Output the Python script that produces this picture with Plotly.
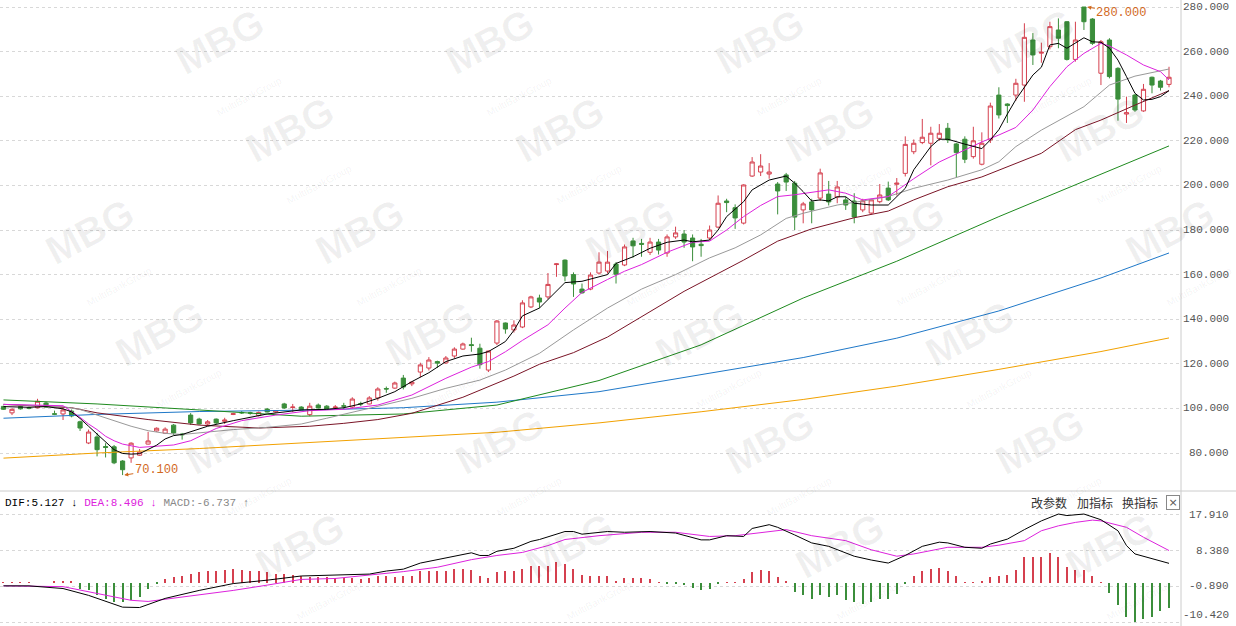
import plotly.graph_objects as go

# ---------------- data ----------------
opens = [100.9, 98.0, 100.8, 100.3, 100.3, 102.4, 97.6, 97.5, 98.8, 94.0,
         84.5, 87.2, 82.9, 82.8, 76.4, 77.8, 79.0, 84.0, 89.9, 88.9,
         92.5, 88.5, 97.0, 95.2, 93.0, 95.2, 94.2, 97.3, 98.2, 98.0,
         96.8, 99.7, 98.4, 102.0, 100.4, 100.6, 97.2, 101.5, 101.0, 100.4,
         101.2, 100.6, 102.2, 102.0, 104.7, 108.9, 109.1, 113.6, 111.0, 116.3,
         118.1, 121.0, 120.4, 123.5, 126.6, 128.6, 127.0, 117.2, 129.3, 138.3,
         135.2, 136.5, 145.5, 149.5, 150.0, 164.5, 166.5, 160.0, 153.5, 153.5,
         160.7, 161.6, 164.7, 164.3, 175.1, 174.0, 170.0, 174.6, 169.7, 176.9,
         178.2, 176.4, 173.6, 176.4, 181.3, 193.0, 190.0, 183.1, 204.2, 206.0,
         205.1, 200.6, 204.7, 201.0, 189.0, 192.6, 194.3, 196.1, 194.8, 193.5,
         193.0, 189.0, 187.6, 192.7, 198.8, 200.5, 205.4, 215.1, 219.2, 218.9,
         221.1, 225.6, 218.6, 220.7, 212.9, 209.5, 220.4, 240.5, 236.5, 240.5,
         245.0, 265.2, 259.3, 262.2, 269.7, 273.4, 256.5, 280.0, 274.6, 250.3,
         265.2, 252.5, 232.0, 240.5, 233.4, 248.5, 246.8, 245.3]
highs = [101.2, 100.0, 101.2, 100.8, 104.3, 103.0, 99.0, 100.2, 99.5, 94.5,
         90.5, 89.0, 84.4, 83.6, 76.8, 84.8, 81.8, 89.5, 91.5, 91.5,
         93.0, 89.0, 97.9, 95.8, 94.8, 95.5, 95.8, 98.0, 98.8, 98.5,
         98.6, 100.2, 99.2, 102.5, 102.0, 101.0, 102.5, 102.2, 101.5, 101.5,
         102.5, 105.0, 103.0, 105.5, 109.5, 109.8, 112.0, 115.0, 112.0, 120.5,
         123.0, 121.4, 123.5, 127.4, 129.5, 131.7, 129.0, 126.0, 139.6, 138.5,
         139.5, 148.5, 150.5, 151.0, 160.7, 165.0, 166.8, 161.0, 156.0, 161.0,
         170.0, 170.6, 165.6, 173.5, 176.5, 176.0, 176.5, 176.0, 178.0, 181.5,
         180.0, 178.0, 176.0, 182.0, 195.5, 194.0, 191.5, 200.5, 212.7, 214.0,
         210.0, 201.5, 205.6, 202.0, 192.6, 194.0, 207.5, 202.0, 202.0, 195.0,
         196.5, 194.0, 194.0, 200.6, 201.7, 203.3, 222.0, 220.6, 229.8, 226.3,
         227.5, 228.0, 219.0, 222.0, 226.3, 223.8, 237.1, 244.0, 236.8, 247.8,
         272.7, 268.3, 264.0, 273.4, 274.9, 273.6, 273.4, 280.0, 275.0, 265.2,
         266.0, 253.0, 239.8, 241.0, 245.5, 248.8, 247.3, 253.2]
lows = [99.3, 97.0, 99.5, 99.6, 100.0, 100.3, 97.0, 94.8, 96.0, 89.9,
        84.0, 78.5, 78.0, 75.0, 70.1, 75.6, 78.8, 83.8, 89.5, 88.5,
        88.0, 86.0, 92.6, 92.7, 92.5, 93.0, 93.0, 97.0, 97.5, 97.2,
        96.4, 98.2, 98.0, 99.8, 98.4, 99.0, 96.5, 100.0, 99.5, 99.8,
        99.8, 100.0, 101.0, 101.8, 103.5, 107.0, 108.8, 108.5, 110.0, 114.0,
        117.0, 118.2, 120.0, 122.5, 126.3, 125.4, 117.8, 116.3, 128.4, 133.5,
        134.0, 136.0, 145.0, 145.0, 149.0, 159.0, 157.0, 150.0, 151.5, 153.0,
        160.0, 160.5, 156.0, 163.8, 167.6, 168.0, 168.8, 169.0, 168.0, 176.0,
        172.0, 166.0, 168.0, 175.5, 180.8, 188.0, 180.5, 182.5, 203.8, 204.2,
        203.0, 187.0, 197.5, 180.0, 183.0, 183.0, 193.0, 191.0, 192.0, 189.0,
        183.0, 188.0, 187.0, 192.0, 193.0, 195.5, 204.0, 214.0, 218.5, 209.0,
        220.0, 219.0, 203.6, 210.0, 212.0, 209.0, 219.0, 230.0, 228.0, 238.0,
        237.5, 254.0, 255.0, 261.0, 261.5, 256.0, 255.5, 269.7, 263.0, 245.0,
        248.0, 229.0, 228.0, 233.0, 233.0, 241.3, 242.5, 244.0]
closes = [99.6, 99.6, 99.8, 100.1, 103.2, 100.6, 97.4, 99.3, 96.6, 91.2,
          89.4, 81.5, 82.5, 75.6, 72.5, 84.4, 80.4, 85.4, 91.1, 90.7,
          89.0, 88.2, 93.5, 93.0, 94.0, 93.5, 94.8, 97.6, 98.0, 97.9,
          98.2, 98.4, 98.9, 100.2, 100.6, 99.3, 101.0, 100.2, 99.7, 100.6,
          101.0, 104.2, 102.0, 104.7, 108.7, 108.7, 111.4, 109.6, 111.8, 119.5,
          121.7, 120.3, 122.6, 126.6, 128.9, 128.2, 119.6, 125.7, 139.2, 135.6,
          137.4, 147.3, 150.0, 147.7, 155.6, 164.8, 159.4, 155.8, 151.8, 159.8,
          165.6, 165.6, 160.2, 172.4, 172.9, 173.6, 174.6, 171.0, 176.9, 178.7,
          174.6, 172.4, 173.0, 180.0, 192.0, 192.3, 185.4, 200.2, 210.5, 208.7,
          206.0, 197.5, 201.5, 185.8, 191.7, 189.0, 205.6, 192.6, 199.3, 191.2,
          185.8, 193.1, 193.5, 195.7, 193.5, 201.0, 218.4, 218.9, 221.6, 223.4,
          223.4, 220.4, 214.7, 211.7, 220.0, 218.9, 235.6, 231.6, 235.8, 245.8,
          266.4, 258.5, 259.7, 271.2, 266.0, 256.5, 265.2, 273.4, 263.7, 264.4,
          248.8, 238.7, 232.6, 233.8, 243.1, 245.0, 244.0, 248.5]

# moving averages (candle index -> value)
ma5_idx = [0, 3, 5, 7, 8, 9, 10, 11, 12, 13, 14, 15, 16, 17, 18, 19, 20, 21, 22, 23,
           24, 27, 31, 35, 38, 40, 42, 44, 46, 48, 50, 52, 54, 56, 57, 58, 59, 60, 61, 63,
           65, 66, 68, 69, 71, 72, 74, 76, 78, 80, 81, 83, 84, 85, 87, 88, 90, 92, 93, 94,
           95, 96, 97, 98, 99, 100, 102, 104, 106, 107, 109, 110, 111, 113, 115, 116, 117, 118, 119, 121,
           122, 123, 124, 125, 127, 128, 129, 130, 131, 132, 133, 134, 135, 136, 137]
ma5_val = [100.8, 100.5, 100.8, 99.8, 98.5, 95.5, 92.0, 88.5, 85.0, 81.5, 79.8, 79.5, 79.7, 81.5, 83.5, 86.3, 87.8, 88.3, 89.5, 90.8,
           92.0, 94.5, 97.5, 99.3, 99.6, 100.3, 102.0, 104.5, 107.5, 112.0, 116.0, 121.0, 123.5, 124.4, 125.5, 127.7, 130.0, 135.0, 141.5, 145.0,
           152.5, 156.4, 157.0, 158.0, 160.0, 165.0, 168.0, 171.8, 174.5, 175.5, 174.7, 175.5, 180.0, 186.0, 192.7, 198.0, 202.4, 204.2, 201.0, 197.2,
           193.0, 193.5, 193.0, 194.9, 194.9, 192.0, 191.2, 191.2, 198.7, 207.0, 217.4, 220.7, 220.7, 218.5, 216.5, 220.4, 225.0, 232.0, 238.5, 249.5,
           253.0, 263.0, 263.7, 261.5, 266.2, 264.4, 264.2, 261.5, 256.2, 248.8, 241.3, 238.3, 238.6, 239.8, 242.5]
ma10_idx = [0, 4, 7, 9, 10, 11, 12, 13, 14, 16, 18, 20, 22, 24, 25, 28, 32, 36, 40, 44,
            48, 52, 55, 57, 59, 61, 64, 66, 68, 71, 73, 75, 78, 81, 83, 85, 87, 89, 91, 93,
            95, 97, 99, 101, 104, 107, 110, 113, 115, 117, 119, 121, 123, 125, 127, 129, 130, 132, 134, 136, 137]
ma10_val = [101.8, 101.5, 101.2, 96.0, 93.0, 90.5, 87.5, 85.5, 84.0, 82.5, 83.0, 83.6, 85.5, 89.0, 91.0, 94.5, 97.0, 99.0, 99.6, 101.5,
            106.0, 113.5, 118.5, 121.0, 125.4, 130.5, 137.5, 145.0, 152.0, 157.8, 161.5, 164.5, 170.0, 174.5, 175.0, 180.0, 186.0, 191.0, 195.0, 195.8,
            197.0, 198.0, 196.5, 193.5, 195.0, 203.0, 210.5, 216.0, 219.5, 222.6, 226.0, 233.8, 244.3, 253.2, 259.2, 263.7, 262.5, 258.5, 254.0, 251.0, 247.3]
ma20_idx = [0, 7, 9, 11, 13, 15, 17, 19, 21, 23, 27, 31, 35, 38, 44, 48, 52, 56, 59, 63,
            67, 71, 75, 79, 83, 86, 89, 92, 94, 96, 98, 101, 104, 107, 111, 115, 117, 119, 122, 127,
            130, 133, 137]
ma20_val = [101.8, 100.8, 99.5, 97.0, 94.5, 92.0, 90.0, 88.8, 88.3, 89.0, 90.5, 91.5, 93.0, 95.6, 100.8, 104.5, 109.0, 112.7, 117.2, 124.7,
            135.2, 145.0, 153.5, 160.0, 167.5, 172.0, 177.8, 185.2, 187.5, 189.5, 191.2, 193.0, 195.0, 198.7, 202.4, 207.0, 210.6, 217.4, 224.8, 235.3,
            245.0, 249.0, 252.2]
ma30_idx = [0, 5, 8, 11, 17, 23, 30, 36, 40, 44, 48, 54, 60, 63, 67, 71, 75, 80, 84, 87,
            91, 95, 100, 104, 107, 111, 115, 119, 122, 126, 129, 133, 137]
ma30_val = [101.8, 100.8, 100.3, 98.0, 95.0, 92.5, 91.2, 92.0, 93.3, 95.0, 97.8, 105.0, 114.5, 119.8, 125.0, 132.0, 141.0, 152.5, 160.5, 166.5,
            175.0, 180.5, 185.5, 188.5, 193.5, 199.4, 203.8, 209.9, 214.4, 225.0, 229.3, 236.0, 242.5]
long_idx = [0, 11, 23, 35, 47, 58, 70, 82, 94, 105, 117, 129, 137]
ma60_val = [103.8, 102.0, 99.3, 96.5, 97.5, 101.5, 112.5, 128.5, 149.5, 166.0, 186.0, 205.0, 217.7]
ma120_val = [95.6, 97.3, 98.6, 99.2, 100.3, 102.8, 107.5, 115.0, 122.8, 131.5, 143.7, 158.5, 169.7]
ma250_val = [77.7, 80.0, 82.0, 84.5, 87.0, 89.3, 93.5, 98.5, 104.0, 110.0, 117.5, 125.5, 131.6]

macd_hist = [0.1, 0.1, 0.1, 0.1, 0.0, 0.0, 0.35, 0.5, 0.5,
             -1.6, -2.0, -3.3, -4.2, -5.1, -5.1, -4.6, -3.8, -1.6, -0.3,
             1.05, 1.5, 1.75, 2.4, 2.8, 3.2, 3.2, 3.5, 3.7, 3.5, 3.2, 3.2, 2.8, 2.4, 2.4, 2.1,
             1.9, 1.65, 1.5, 1.5, 1.2, 1.2, 1.2, 1.05, 1.2, 1.75, 1.75, 1.5,
             1.9, 1.9, 3.0, 3.2, 3.2, 3.2, 3.7, 3.7, 3.4, 1.75, 1.2, 2.8, 3.0, 3.0, 3.7,
             4.4, 4.4, 4.5, 5.4, 5.0, 3.7, 2.1, 1.75, 1.75, 1.75, 0.6, 1.2, 1.2, 1.2, 1.05,
             0.1, -0.1, -0.3, -0.7, -1.4, -2.0, -1.75, -0.2, 0.1, 0.2,
             1.05, 2.8, 3.5, 3.2, 1.5, 0.35,
             -2.45, -3.3, -4.2, -3.1, -3.8, -3.3, -4.6, -5.1, -5.5, -5.1, -4.2, -4.2, -2.9, -0.1,
             1.75, 3.2, 3.7, 3.85, 3.0, 1.75,
             0.05, 0.05, 0.3,
             1.5, 1.75, 2.1, 3.5, 6.7, 6.9, 6.7, 7.8, 6.7, 4.1, 3.5, 3.5, 1.75, 0.05,
             -2.6, -5.9, -9.0, -10.3, -9.6, -9.0, -7.5, -6.737]
dif_idx = [0, 3, 7, 10, 14, 16, 19, 23, 27, 31, 35, 39, 43, 45, 47, 49, 51, 55, 56, 57,
           58, 60, 62, 63, 66, 67, 68, 71, 73, 75, 76, 79, 82, 83, 85, 87, 88, 90, 91, 93,
           95, 97, 100, 102, 104, 106, 108, 110, 111, 113, 115, 116, 118, 120, 122, 124, 125, 127, 129, 131,
           132, 133, 135, 137]
dif_val = [-0.8, -0.8, -1.5, -3.3, -6.4, -6.5, -4.1, -2.0, -0.2, 0.7, 1.8, 2.0, 2.3, 3.1, 3.6, 5.2, 6.1, 7.9, 7.2, 7.2,
           8.3, 9.1, 10.9, 11.4, 13.5, 13.5, 12.8, 13.5, 13.3, 13.5, 13.5, 13.1, 11.3, 11.3, 12.4, 12.2, 14.3, 15.3, 14.6, 12.6,
           10.5, 9.6, 7.0, 6.0, 5.2, 7.2, 9.6, 10.7, 10.5, 9.35, 9.1, 10.2, 11.5, 14.0, 16.3, 18.1, 17.7, 18.1, 16.6, 13.7,
           9.8, 7.6, 6.3, 5.127]
dea_idx = [0, 7, 11, 15, 17, 21, 27, 31, 35, 39, 43, 47, 51, 55, 58, 61, 64, 66, 70, 75,
           79, 83, 86, 90, 92, 95, 99, 102, 105, 107, 111, 113, 115, 117, 120, 122, 124, 126, 128, 129,
           132, 134, 137]
dea_val = [-0.8, -1.0, -2.8, -4.6, -4.9, -3.7, -2.0, -0.6, 0.9, 1.15, 2.0, 2.95, 4.1, 6.1, 7.2, 8.0, 9.8, 11.4, 12.4, 13.3,
           13.3, 12.2, 12.4, 13.5, 14.0, 12.4, 11.1, 8.7, 7.0, 7.6, 9.35, 9.35, 9.35, 9.9, 11.1, 13.7, 15.0, 15.9, 16.5, 16.3,
           14.6, 12.0, 8.496]

price_ticks = [80, 100, 120, 140, 160, 180, 200, 220, 240, 260, 280]
price_labels = ["80.000", "100.000", "120.000", "140.000", "160.000", "180.000",
                "200.000", "220.000", "240.000", "260.000", "280.000"]
macd_ticks = [17.91, 8.38, -0.89, -10.42]
macd_labels = ["17.910", "8.380", "-0.890", "-10.420"]

# ---------------- styling ----------------
W, H = 1236, 626
RED = "#d5404f"
GREEN = "#3b8e3b"
XD = 1181 / W
TOP_DOM = [1 - 490 / H, 1]
BOT_DOM = [0, 1 - 492 / H]
XRANGE = [-0.41, 138.41]
MONO = "Liberation Mono, DejaVu Sans Mono, monospace"
CJK = "Noto Sans CJK SC"
HEAD_Y = 1 - 503 / H

n = len(opens)
idx = list(range(n))

fig = go.Figure()
fig.add_trace(go.Candlestick(
    x=idx, open=opens, high=highs, low=lows, close=closes,
    increasing=dict(line=dict(color=RED, width=1), fillcolor="white"),
    decreasing=dict(line=dict(color=GREEN, width=1), fillcolor=GREEN),
    whiskerwidth=0, xaxis="x", yaxis="y", hoverinfo="skip"))

for xs, ys, col in [(long_idx, ma250_val, "#f2a100"), (long_idx, ma120_val, "#1f78c8"),
                    (long_idx, ma60_val, "#1e8a1e"), (ma30_idx, ma30_val, "#7a1426"),
                    (ma20_idx, ma20_val, "#999999"), (ma10_idx, ma10_val, "#dd22dd"),
                    (ma5_idx, ma5_val, "#000000")]:
    fig.add_trace(go.Scatter(x=xs, y=ys, mode="lines", line=dict(color=col, width=1),
                             xaxis="x", yaxis="y", hoverinfo="skip"))

fig.add_trace(go.Bar(x=idx, y=macd_hist, width=0.13,
                     marker=dict(color=[RED if v >= 0 else GREEN for v in macd_hist], line=dict(width=0)),
                     xaxis="x2", yaxis="y2", hoverinfo="skip"))
fig.add_trace(go.Scatter(x=dea_idx, y=dea_val, mode="lines", line=dict(color="#dd22dd", width=1),
                         xaxis="x2", yaxis="y2", hoverinfo="skip"))
fig.add_trace(go.Scatter(x=dif_idx, y=dif_val, mode="lines", line=dict(color="#000000", width=1),
                         xaxis="x2", yaxis="y2", hoverinfo="skip"))

ann = []
# watermarks
rows = [(62, 230), (150, 30), (252, 100), (354, 170), (462, 240), (566, 40)]
for py, off in rows:
    px = off
    while px < 1190:
        if px > 45:
            ann.append(dict(xref="paper", yref="paper", x=px / W, y=1 - py / H,
                            xanchor="center", yanchor="middle",
                            text="<b>MBG</b><br><span style='font-size:10px'>MultiBankGroup</span>",
                            showarrow=False, textangle=-28,
                            font=dict(family="Arial, Liberation Sans", size=40, color="rgba(0,0,0,0.06)")))
        px += 270

for v, t in zip(price_ticks, price_labels):
    ann.append(dict(xref="paper", yref="y", x=1231 / W, y=v, text=t, xanchor="right", yanchor="middle",
                    showarrow=False, font=dict(family=MONO, size=11, color="#555")))
for v, t in zip(macd_ticks, macd_labels):
    ann.append(dict(xref="paper", yref="y2", x=1231 / W, y=v, text=t, xanchor="right", yanchor="middle",
                    yshift=7 if v < -10 else 0,
                    showarrow=False, font=dict(family=MONO, size=11, color="#555")))

ann.append(dict(xref="paper", yref="paper", x=3 / W, y=HEAD_Y, xanchor="left", yanchor="middle",
                showarrow=False,
                text="<span style='color:#000'>DIF:5.127 ↓</span> <span style='color:#dd22dd'>DEA:8.496 ↓</span> "
                     "<span style='color:#888'>MACD:-6.737 ↑</span>",
                font=dict(family=MONO, size=11, color="#000")))
for px, t in [(1048.5, "改参数"), (1094.5, "加指标"), (1139.5, "换指标")]:
    ann.append(dict(xref="paper", yref="paper", x=px / W, y=HEAD_Y, text=t, showarrow=False,
                    xanchor="center", yanchor="middle",
                    font=dict(family=CJK, size=12, color="#333")))
ann.append(dict(xref="paper", yref="paper", x=1172.5 / W, y=HEAD_Y, text="×", showarrow=False,
                xanchor="center", yanchor="middle",
                bordercolor="#888", borderwidth=1, borderpad=0, width=12, height=13,
                font=dict(family="DejaVu Sans", size=11, color="#555")))

# extreme labels
ann.append(dict(xref="x", yref="y", x=127.4, y=280.0, text="280.000", showarrow=True,
                ax=34, ay=6, arrowhead=2, arrowsize=0.8, arrowwidth=1, arrowcolor="#d2691e",
                font=dict(family=MONO, size=12, color="#d2691e")))
ann.append(dict(xref="x", yref="y", x=14.2, y=70.1, text="70.100", showarrow=True,
                ax=32, ay=-5, arrowhead=2, arrowsize=0.8, arrowwidth=1, arrowcolor="#d2691e",
                font=dict(family=MONO, size=12, color="#d2691e")))

shapes = [
    dict(type="line", xref="paper", yref="paper", x0=XD, x1=XD, y0=0, y1=1, line=dict(color="#cccccc", width=1)),
    dict(type="line", xref="paper", yref="paper", x0=0, x1=1, y0=1 - 491 / H, y1=1 - 491 / H,
         line=dict(color="#cccccc", width=1)),
]

grid = dict(showgrid=True, gridcolor="#d8d8d8", griddash="dot", gridwidth=1,
            showticklabels=False, zeroline=False, showline=False, ticks="")
fig.update_layout(
    width=W, height=H, margin=dict(l=0, r=0, t=0, b=0),
    paper_bgcolor="white", plot_bgcolor="white", showlegend=False,
    xaxis=dict(domain=[0, XD], range=XRANGE, showgrid=False, showticklabels=False, zeroline=False,
               rangeslider=dict(visible=False), fixedrange=True),
    yaxis=dict(domain=TOP_DOM, range=[63.41, 283.14], tickvals=price_ticks, **grid),
    xaxis2=dict(domain=[0, XD], range=XRANGE, anchor="y2", showgrid=False, showticklabels=False,
                zeroline=False),
    yaxis2=dict(domain=BOT_DOM, range=[-11.36, 23.9], tickvals=macd_ticks, anchor="x2", **grid),
    annotations=ann, shapes=shapes, bargap=0,
)
fig.write_html("out.html", config={"displayModeBar": False},
               post_script="document.body.style.margin='0';document.body.style.overflow='hidden';")
